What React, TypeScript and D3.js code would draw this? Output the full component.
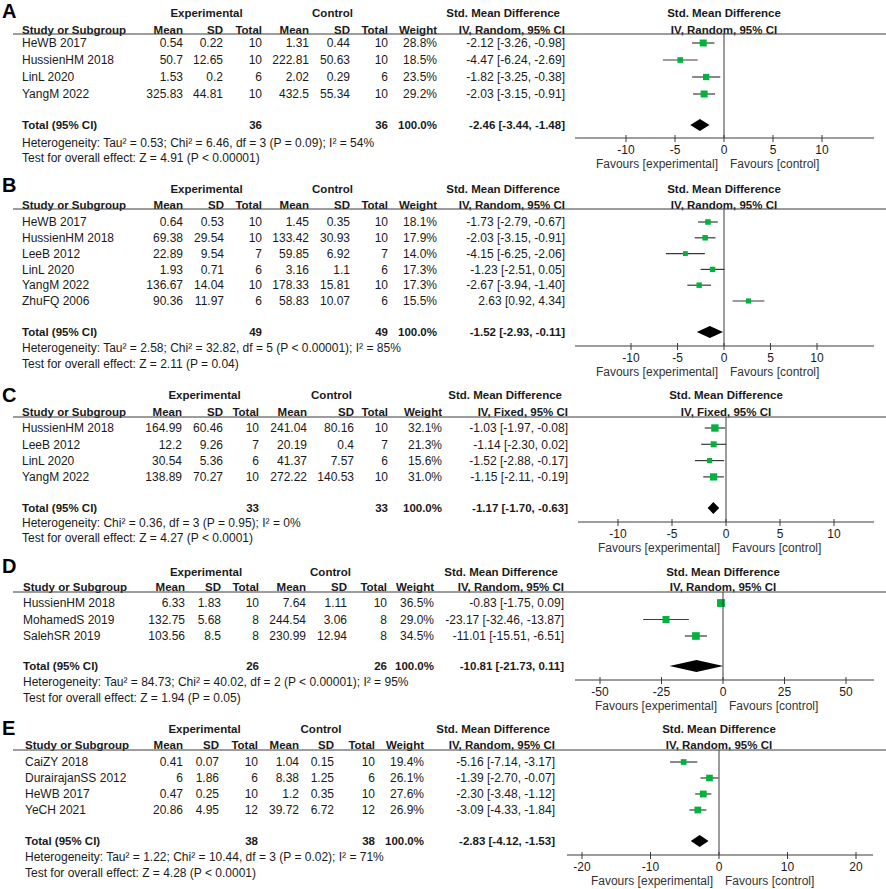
import React from "react";
import * as d3 from "d3";

// ---------- Panel A ----------
const namesA = ["HeWB 2017", "HussienHM 2018", "LinL 2020", "YangM 2022"];
const expMeanA = [0.54, 50.7, 1.53, 325.83];
const expSdA = [0.22, 12.65, 0.2, 44.81];
const expNA = [10, 10, 6, 10];
const ctlMeanA = [1.31, 222.81, 2.02, 432.5];
const ctlSdA = [0.44, 50.63, 0.29, 55.34];
const ctlNA = [10, 10, 6, 10];
const weightA = [28.8, 18.5, 23.5, 29.2];
const smdA = [-2.12, -4.47, -1.82, -2.03];
const lowA = [-3.26, -6.24, -3.25, -3.15];
const highA = [-0.98, -2.69, -0.38, -0.91];
const totalA = [-2.46, -3.44, -1.48];
const totalNA = [36, 36];
const hetA = "Heterogeneity: Tau² = 0.53; Chi² = 6.46, df = 3 (P = 0.09); I² = 54%";
const testA = "Test for overall effect: Z = 4.91 (P < 0.00001)";
const methodA = "IV, Random, 95% CI";
const ticksA = [-10, -5, 0, 5, 10];

// ---------- Panel B ----------
const namesB = ["HeWB 2017", "HussienHM 2018", "LeeB 2012", "LinL 2020", "YangM 2022", "ZhuFQ 2006"];
const expMeanB = [0.64, 69.38, 22.89, 1.93, 136.67, 90.36];
const expSdB = [0.53, 29.54, 9.54, 0.71, 14.04, 11.97];
const expNB = [10, 10, 7, 6, 10, 6];
const ctlMeanB = [1.45, 133.42, 59.85, 3.16, 178.33, 58.83];
const ctlSdB = [0.35, 30.93, 6.92, 1.1, 15.81, 10.07];
const ctlNB = [10, 10, 7, 6, 10, 6];
const weightB = [18.1, 17.9, 14.0, 17.3, 17.3, 15.5];
const smdB = [-1.73, -2.03, -4.15, -1.23, -2.67, 2.63];
const lowB = [-2.79, -3.15, -6.25, -2.51, -3.94, 0.92];
const highB = [-0.67, -0.91, -2.06, 0.05, -1.4, 4.34];
const totalB = [-1.52, -2.93, -0.11];
const totalNB = [49, 49];
const hetB = "Heterogeneity: Tau² = 2.58; Chi² = 32.82, df = 5 (P < 0.00001); I² = 85%";
const testB = "Test for overall effect: Z = 2.11 (P = 0.04)";
const methodB = "IV, Random, 95% CI";
const ticksB = [-10, -5, 0, 5, 10];

// ---------- Panel C ----------
const namesC = ["HussienHM 2018", "LeeB 2012", "LinL 2020", "YangM 2022"];
const expMeanC = [164.99, 12.2, 30.54, 138.89];
const expSdC = [60.46, 9.26, 5.36, 70.27];
const expNC = [10, 7, 6, 10];
const ctlMeanC = [241.04, 20.19, 41.37, 272.22];
const ctlSdC = [80.16, 0.4, 7.57, 140.53];
const ctlNC = [10, 7, 6, 10];
const weightC = [32.1, 21.3, 15.6, 31.0];
const smdC = [-1.03, -1.14, -1.52, -1.15];
const lowC = [-1.97, -2.3, -2.88, -2.11];
const highC = [-0.08, 0.02, -0.17, -0.19];
const totalC = [-1.17, -1.7, -0.63];
const totalNC = [33, 33];
const hetC = "Heterogeneity: Chi² = 0.36, df = 3 (P = 0.95); I² = 0%";
const testC = "Test for overall effect: Z = 4.27 (P < 0.0001)";
const methodC = "IV, Fixed, 95% CI";
const ticksC = [-10, -5, 0, 5, 10];

// ---------- Panel D ----------
const namesD = ["HussienHM 2018", "MohamedS 2019", "SalehSR 2019"];
const expMeanD = [6.33, 132.75, 103.56];
const expSdD = [1.83, 5.68, 8.5];
const expND = [10, 8, 8];
const ctlMeanD = [7.64, 244.54, 230.99];
const ctlSdD = [1.11, 3.06, 12.94];
const ctlND = [10, 8, 8];
const weightD = [36.5, 29.0, 34.5];
const smdD = [-0.83, -23.17, -11.01];
const lowD = [-1.75, -32.46, -15.51];
const highD = [0.09, -13.87, -6.51];
const totalD = [-10.81, -21.73, 0.11];
const totalND = [26, 26];
const hetD = "Heterogeneity: Tau² = 84.73; Chi² = 40.02, df = 2 (P < 0.00001); I² = 95%";
const testD = "Test for overall effect: Z = 1.94 (P = 0.05)";
const methodD = "IV, Random, 95% CI";
const ticksD = [-50, -25, 0, 25, 50];

// ---------- Panel E ----------
const namesE = ["CaiZY 2018", "DurairajanSS 2012", "HeWB 2017", "YeCH 2021"];
const expMeanE = [0.41, 6, 0.47, 20.86];
const expSdE = [0.07, 1.86, 0.25, 4.95];
const expNE = [10, 6, 10, 12];
const ctlMeanE = [1.04, 8.38, 1.2, 39.72];
const ctlSdE = [0.15, 1.25, 0.35, 6.72];
const ctlNE = [10, 6, 10, 12];
const weightE = [19.4, 26.1, 27.6, 26.9];
const smdE = [-5.16, -1.39, -2.3, -3.09];
const lowE = [-7.14, -2.7, -3.48, -4.33];
const highE = [-3.17, -0.07, -1.12, -1.84];
const totalE = [-2.83, -4.12, -1.53];
const totalNE = [38, 38];
const hetE = "Heterogeneity: Tau² = 1.22; Chi² = 10.44, df = 3 (P = 0.02); I² = 71%";
const testE = "Test for overall effect: Z = 4.28 (P < 0.0001)";
const methodE = "IV, Random, 95% CI";
const ticksE = [-20, -10, 0, 10, 20];

const panelLetters = ["A", "B", "C", "D", "E"];

const panels = [
  { names: namesA, expMean: expMeanA, expSd: expSdA, expN: expNA, ctlMean: ctlMeanA, ctlSd: ctlSdA, ctlN: ctlNA, weight: weightA, smd: smdA, low: lowA, high: highA, total: totalA, totalN: totalNA, het: hetA, test: testA, method: methodA, ticks: ticksA },
  { names: namesB, expMean: expMeanB, expSd: expSdB, expN: expNB, ctlMean: ctlMeanB, ctlSd: ctlSdB, ctlN: ctlNB, weight: weightB, smd: smdB, low: lowB, high: highB, total: totalB, totalN: totalNB, het: hetB, test: testB, method: methodB, ticks: ticksB },
  { names: namesC, expMean: expMeanC, expSd: expSdC, expN: expNC, ctlMean: ctlMeanC, ctlSd: ctlSdC, ctlN: ctlNC, weight: weightC, smd: smdC, low: lowC, high: highC, total: totalC, totalN: totalNC, het: hetC, test: testC, method: methodC, ticks: ticksC },
  { names: namesD, expMean: expMeanD, expSd: expSdD, expN: expND, ctlMean: ctlMeanD, ctlSd: ctlSdD, ctlN: ctlND, weight: weightD, smd: smdD, low: lowD, high: highD, total: totalD, totalN: totalND, het: hetD, test: testD, method: methodD, ticks: ticksD },
  { names: namesE, expMean: expMeanE, expSd: expSdE, expN: expNE, ctlMean: ctlMeanE, ctlSd: ctlSdE, ctlN: ctlNE, weight: weightE, smd: smdE, low: lowE, high: highE, total: totalE, totalN: totalNE, het: hetE, test: testE, method: methodE, ticks: ticksE },
];

// ---------- layout (positions only) ----------
const layouts = [
  { letterY: 18, hdr1: 13, hdr2: 30, line: 34, row0: 43, step: 17, total: 125, het: 143, test: 158, axisY: 138, zero: 724, ppu: 9.8, ax0: 575, ax1: 874, cols: [183, 223, 262, 309, 350, 388, 437], nameX: 22, smdX: 565, smdHdrX: 560 },
  { letterY: 192, hdr1: 189, hdr2: 205, line: 209, row0: 222, step: 15.8, total: 332, het: 348, test: 364, axisY: 346, zero: 724, ppu: 9.3, ax0: 575, ax1: 874, cols: [183, 224, 262, 309, 350, 388, 437], nameX: 22, smdX: 565, smdHdrX: 560 },
  { letterY: 402, hdr1: 395, hdr2: 412, line: 417, row0: 428, step: 16.3, total: 508, het: 523, test: 538, axisY: 522, zero: 726, ppu: 10.8, ax0: 578, ax1: 874, cols: [182, 223, 259, 307, 354, 388, 442], nameX: 22, smdX: 568, smdHdrX: 562 },
  { letterY: 573, hdr1: 572, hdr2: 587, line: 592, row0: 603, step: 16.5, total: 666, het: 682, test: 698, axisY: 680, zero: 723, ppu: 2.46, ax0: 575, ax1: 874, cols: [185, 221, 259, 306, 347, 387, 434], nameX: 23, smdX: 564, smdHdrX: 558 },
  { letterY: 735, hdr1: 729, hdr2: 745, line: 750, row0: 762, step: 16, total: 841, het: 857, test: 873, axisY: 855, zero: 719, ppu: 6.85, ax0: 567, ax1: 873, cols: [183, 219, 258, 299, 334, 375, 424], nameX: 25, smdX: 555, smdHdrX: 550 },
];

const FONT = "'Liberation Sans', Arial, Helvetica, sans-serif";
const FS = 12;
const FSB = 11.5;
const INK = "#1a1a1a";
const GREEN = "#00b33c";
const LINE = "#3a3a3a";

const fmtCI = (e: number, l: number, h: number) =>
  `${e.toFixed(2)} [${l.toFixed(2)}, ${h.toFixed(2)}]`;

function Panel({ p, L, letter }: any) {
  const maxT = d3.max(p.ticks as number[]) as number;
  const minT = d3.min(p.ticks as number[]) as number;
  const x = d3
    .scaleLinear()
    .domain([minT, maxT])
    .range([L.zero + minT * L.ppu, L.zero + maxT * L.ppu]);
  const rowY = (i: number) => L.row0 + i * L.step;
  const c = L.cols;
  const expCenter = (c[0] - 32 + c[2]) / 2;
  const ctlCenter = (c[3] - 32 + c[5]) / 2;
  const t = (props: any, s: any) => (
    <text dy="0.35em" fill={INK} fontSize={props.fontWeight === "bold" ? FSB : FS} {...props}>
      {s}
    </text>
  );
  const dh = 6;
  const [te, tl, th] = p.total;
  const diamond = `M${x(tl)},${L.total} L${x(te)},${L.total - dh} L${x(th)},${L.total} L${x(te)},${L.total + dh} Z`;
  return (
    <g>
      <text x={2} y={L.letterY} fontSize={20} fontWeight="bold" fill="#000">
        {letter}
      </text>
      {/* headers */}
      {t({ x: expCenter, y: L.hdr1, textAnchor: "middle", fontWeight: "bold" }, "Experimental")}
      {t({ x: ctlCenter, y: L.hdr1, textAnchor: "middle", fontWeight: "bold" }, "Control")}
      {t({ x: L.smdHdrX, y: L.hdr1, textAnchor: "end", fontWeight: "bold" }, "Std. Mean Difference")}
      {t({ x: L.zero, y: L.hdr1, textAnchor: "middle", fontWeight: "bold" }, "Std. Mean Difference")}
      {t({ x: L.nameX, y: L.hdr2, fontWeight: "bold" }, "Study or Subgroup")}
      {["Mean", "SD", "Total", "Mean", "SD", "Total", "Weight"].map((h, i) =>
        <React.Fragment key={i}>{t({ x: c[i], y: L.hdr2, textAnchor: "end", fontWeight: "bold" }, h)}</React.Fragment>
      )}
      {t({ x: L.smdX, y: L.hdr2, textAnchor: "end", fontWeight: "bold" }, p.method)}
      {t({ x: L.zero, y: L.hdr2, textAnchor: "middle", fontWeight: "bold" }, p.method)}
      <line x1={13} x2={886} y1={L.line} y2={L.line} stroke={LINE} strokeWidth={1} />
      {/* study rows */}
      {p.names.map((n: string, i: number) => {
        const y = rowY(i);
        const vals = [p.expMean[i], p.expSd[i], p.expN[i], p.ctlMean[i], p.ctlSd[i], p.ctlN[i]];
        const s = 1.3 * Math.sqrt(p.weight[i]);
        return (
          <g key={n}>
            {t({ x: L.nameX, y }, n)}
            {vals.map((v, j) => (
              <React.Fragment key={j}>{t({ x: c[j], y, textAnchor: "end" }, String(v))}</React.Fragment>
            ))}
            {t({ x: c[6], y, textAnchor: "end" }, p.weight[i].toFixed(1) + "%")}
            {t({ x: L.smdX, y, textAnchor: "end" }, fmtCI(p.smd[i], p.low[i], p.high[i]))}
            <line x1={x(p.low[i])} x2={x(p.high[i])} y1={y} y2={y} stroke={LINE} strokeWidth={1.2} />
            <rect x={x(p.smd[i]) - s / 2} y={y - s / 2} width={s} height={s} fill={GREEN} />
          </g>
        );
      })}
      {/* total */}
      {t({ x: L.nameX, y: L.total, fontWeight: "bold" }, "Total (95% CI)")}
      {t({ x: c[2], y: L.total, textAnchor: "end", fontWeight: "bold" }, String(p.totalN[0]))}
      {t({ x: c[5], y: L.total, textAnchor: "end", fontWeight: "bold" }, String(p.totalN[1]))}
      {t({ x: c[6], y: L.total, textAnchor: "end", fontWeight: "bold" }, "100.0%")}
      {t({ x: L.smdX, y: L.total, textAnchor: "end", fontWeight: "bold" }, fmtCI(te, tl, th))}
      <path d={diamond} fill="#000" />
      {t({ x: L.nameX, y: L.het }, p.het)}
      {t({ x: L.nameX, y: L.test }, p.test)}
      {/* zero line & axis */}
      <line x1={x(0)} x2={x(0)} y1={L.line} y2={L.axisY} stroke={LINE} strokeWidth={1} />
      <line x1={L.ax0} x2={L.ax1} y1={L.axisY} y2={L.axisY} stroke={LINE} strokeWidth={1} />
      {p.ticks.map((tk: number) => (
        <g key={tk}>
          <line x1={x(tk)} x2={x(tk)} y1={L.axisY - 3} y2={L.axisY + 4} stroke={LINE} strokeWidth={1} />
          {t({ x: x(tk), y: L.axisY + 12, textAnchor: "middle" }, String(tk))}
        </g>
      ))}
      {t({ x: x(0) - 6, y: L.axisY + 26, textAnchor: "end", fill: "#333" }, "Favours [experimental]")}
      {t({ x: x(0) + 6, y: L.axisY + 26, textAnchor: "start", fill: "#333" }, "Favours [control]")}
    </g>
  );
}

export default function App() {
  return (
    <svg
      width={886}
      height={889}
      viewBox="0 0 886 889"
      style={{ position: "absolute", left: 0, top: 0, display: "block", background: "#fff" }}
      fontFamily={FONT}
    >
      <rect x={0} y={0} width={886} height={889} fill="#fff" />
      {panels.map((p, i) => (
        <Panel key={i} p={p} L={layouts[i]} letter={panelLetters[i]} />
      ))}
    </svg>
  );
}
